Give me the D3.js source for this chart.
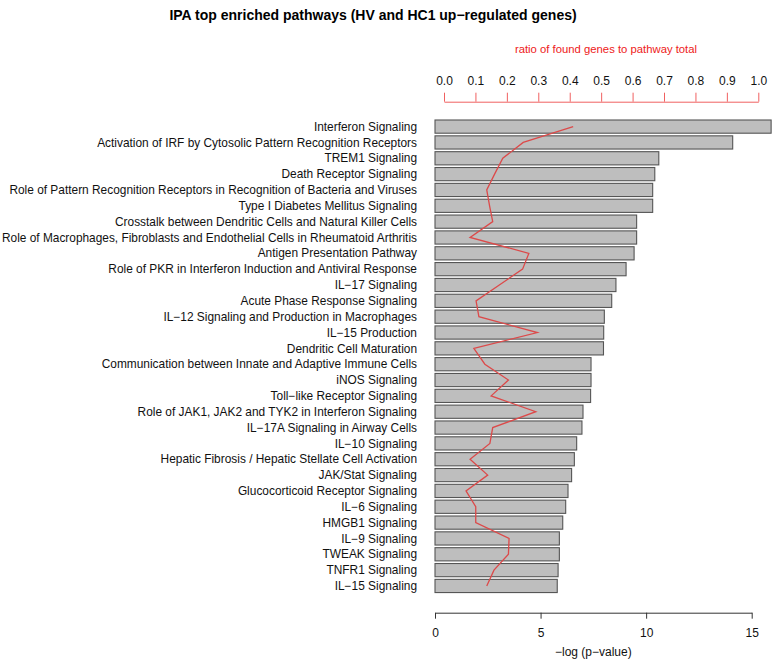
<!DOCTYPE html>
<html><head><meta charset="utf-8">
<script src="https://cdn.jsdelivr.net/npm/d3@7"></script>
<style>body{margin:0;background:#fff}svg{display:block}text{font-family:"Liberation Sans",Arial,sans-serif}</style>
</head><body><svg id="c" width="774" height="670"></svg>
<script>
const pathways = ["Interferon Signaling","Activation of IRF by Cytosolic Pattern Recognition Receptors","TREM1 Signaling","Death Receptor Signaling","Role of Pattern Recognition Receptors in Recognition of Bacteria and Viruses","Type I Diabetes Mellitus Signaling","Crosstalk between Dendritic Cells and Natural Killer Cells","Role of Macrophages, Fibroblasts and Endothelial Cells in Rheumatoid Arthritis","Antigen Presentation Pathway","Role of PKR in Interferon Induction and Antiviral Response","IL\u221217 Signaling","Acute Phase Response Signaling","IL\u221212 Signaling and Production in Macrophages","IL\u221215 Production","Dendritic Cell Maturation","Communication between Innate and Adaptive Immune Cells","iNOS Signaling","Toll\u2212like Receptor Signaling","Role of JAK1, JAK2 and TYK2 in Interferon Signaling","IL\u221217A Signaling in Airway Cells","IL\u221210 Signaling","Hepatic Fibrosis / Hepatic Stellate Cell Activation","JAK/Stat Signaling","Glucocorticoid Receptor Signaling","IL\u22126 Signaling","HMGB1 Signaling","IL\u22129 Signaling","TWEAK Signaling","TNFR1 Signaling","IL\u221215 Signaling"];
const negLogP = [15.92,14.10,10.60,10.41,10.31,10.31,9.55,9.55,9.43,9.05,8.57,8.37,8.02,7.99,7.98,7.39,7.39,7.37,7.01,6.96,6.71,6.60,6.47,6.30,6.19,6.05,5.89,5.89,5.83,5.79];
const ratio = [0.411,0.252,0.187,0.161,0.136,0.145,0.155,0.083,0.270,0.250,0.176,0.102,0.111,0.297,0.095,0.130,0.205,0.150,0.292,0.155,0.146,0.083,0.139,0.070,0.101,0.101,0.207,0.205,0.159,0.136];
const pTicks = [0,5,10,15];
const rTicks = [0,0.1,0.2,0.3,0.4,0.5,0.6,0.7,0.8,0.9,1.0];

const svg = d3.select("#c");
const x = d3.scaleLinear().domain([0,15]).range([435,751.7]);
const xr = d3.scaleLinear().domain([0,1]).range([444,758.3]);
const pitch = 15.84, bh = 13.2, top0 = 120;
const y = d3.scaleLinear().domain([0, pathways.length-1]).range([top0, top0 + (pathways.length-1)*pitch]);
const yc = i => y(i) + bh/2;

svg.append("text").attr("x",373).attr("y",20).attr("text-anchor","middle")
  .attr("font-weight","bold").attr("font-size",14).text("IPA top enriched pathways (HV and HC1 up\u2212regulated genes)");

svg.selectAll("rect.bar").data(negLogP).join("rect").attr("class","bar")
  .attr("x",x(0)).attr("y",(d,i)=>y(i)).attr("width",d=>x(d)-x(0)).attr("height",bh)
  .attr("fill","#bebebe").attr("stroke","#555").attr("stroke-width",1.1);

const labs = svg.selectAll("text.lab").data(pathways).join("text").attr("class","lab")
  .attr("x",417).attr("y",(d,i)=>yc(i)).attr("dy","0.35em").attr("text-anchor","end")
  .attr("font-size",11.9).attr("fill","#111").text(d=>d);
labs.each(function(){ const w=this.getComputedTextLength(); if(w>415) d3.select(this).attr("textLength",415).attr("lengthAdjust","spacingAndGlyphs"); });

const line = d3.line().x(d=>xr(d)).y((d,i)=>yc(i));
svg.append("path").datum(ratio).attr("d",line).attr("fill","none").attr("stroke","#dc4a4a").attr("stroke-width",1.3);

// bottom axis
const gb = svg.append("g").attr("transform","translate(0,612.7)");
gb.call(d3.axisBottom(x).tickValues(pTicks).tickFormat(d3.format("d")).tickSize(6).tickSizeOuter(0).tickPadding(10));
gb.select(".domain").attr("stroke","#333");
gb.selectAll(".tick line").attr("stroke","#333");
gb.selectAll("text").attr("font-size",12).attr("fill","#111").attr("font-family","Liberation Sans, Arial, sans-serif");
svg.append("text").attr("x",x(7.5)).attr("y",656).attr("text-anchor","middle").attr("font-size",12).attr("fill","#111").text("\u2212log (p\u2212value)");

// top axis
const gt = svg.append("g").attr("transform","translate(0,101.7)");
gt.call(d3.axisTop(xr).tickValues(rTicks).tickFormat(d3.format(".1f")).tickSize(9).tickSizeOuter(0).tickPadding(8));
gt.select(".domain").attr("stroke","#f06060");
gt.selectAll(".tick line").attr("stroke","#f06060");
gt.selectAll("text").attr("font-size",12).attr("fill","#111").attr("font-family","Liberation Sans, Arial, sans-serif");
svg.append("text").attr("x",606).attr("y",53).attr("text-anchor","middle").attr("font-size",11.3).attr("fill","#ee2020").text("ratio of found genes to pathway total");
</script></body></html>
